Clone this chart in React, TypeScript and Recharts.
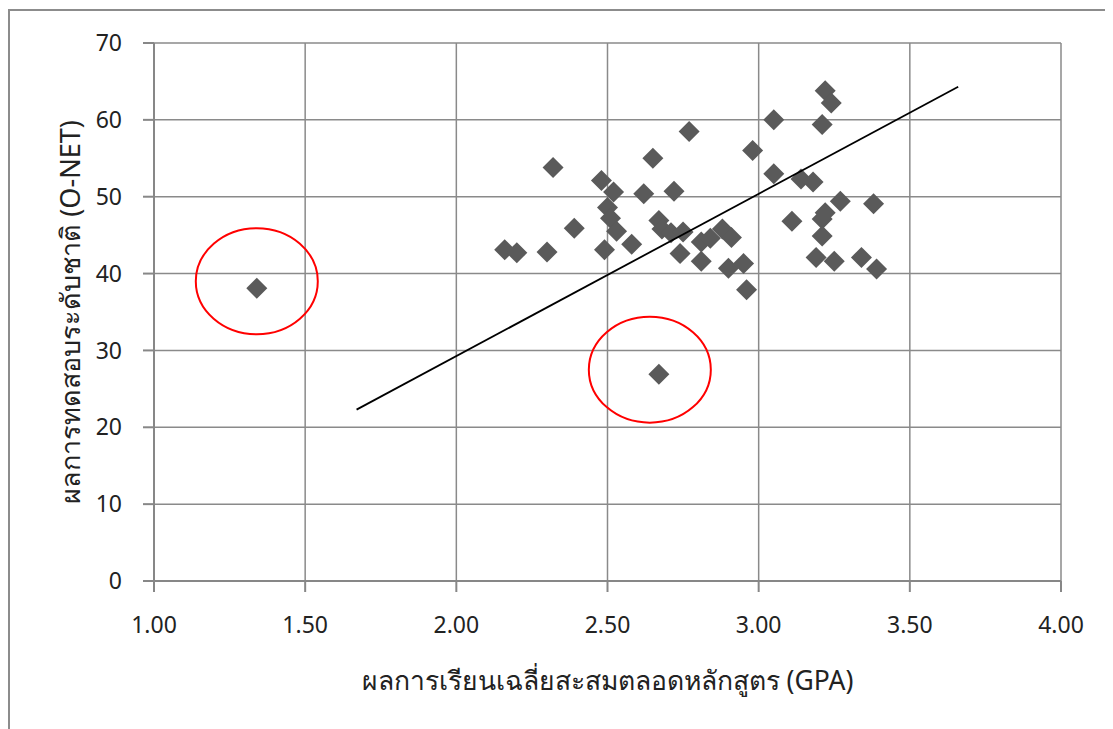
import React from "react";
import {
    ScatterChart,
    Scatter,
    XAxis,
    YAxis,
    CartesianGrid,
    ReferenceDot,
} from "recharts";

// GPA (x) vs O-NET score (y)
const gpa = [
    1.34, 2.16, 2.2, 2.3, 2.32, 2.39, 2.48, 2.49, 2.5, 2.51, 2.52, 2.53, 2.58, 2.62, 2.65, 2.67, 2.68, 2.67, 2.71,
    2.72, 2.74, 2.75, 2.77, 2.81, 2.81, 2.84, 2.88, 2.9, 2.91, 2.95, 2.96, 2.98, 3.05, 3.05, 3.11, 3.14, 3.18, 3.19,
    3.21, 3.21, 3.21, 3.22, 3.22, 3.24, 3.25, 3.27, 3.34, 3.38, 3.39,
];
const onet = [
    38.1, 43.1, 42.7, 42.8, 53.8, 45.9, 52.1, 43.1, 48.6, 47.2, 50.6, 45.5, 43.8, 50.4, 55.0, 46.9, 45.8, 26.9, 45.3,
    50.7, 42.6, 45.4, 58.5, 41.6, 44.1, 44.6, 45.8, 40.7, 44.7, 41.3, 37.9, 56.0, 60.0, 53.0, 46.8, 52.3, 51.9, 42.1,
    47.1, 44.9, 59.4, 63.8, 47.9, 62.2, 41.6, 49.4, 42.1, 49.1, 40.6,
];

// straight trend line end points
const trendX = [1.67, 3.66];
const trendY = [22.3, 64.3];

// circled outliers
const outlierX = [1.34, 2.64];
const outlierY = [39.0, 27.5];

const xTicks = [1, 1.5, 2, 2.5, 3, 3.5, 4];
const yTicks = [0, 10, 20, 30, 40, 50, 60, 70];

const points = gpa.map((x, i) => ({ x, y: onet[i] }));
const trend = trendX.map((x, i) => ({ x, y: trendY[i] }));

const Diamond = (props: any) => {
    const { cx, cy } = props;
    if (cx == null || cy == null) return <g />;
    const r = 10.5;
    return <polygon points={`${cx},${cy - r} ${cx + r},${cy} ${cx},${cy + r} ${cx - r},${cy}`} fill="#5a5a5a" />;
};

const Ellipse = (props: any) => {
    const { cx, cy } = props;
    return <ellipse cx={cx} cy={cy} rx={61} ry={53} fill="none" stroke="#ff0000" strokeWidth={2} />;
};

const font = "'Noto Sans', 'Open Sans', sans-serif";
const axisStroke = { stroke: "#878787", strokeWidth: 2 };

export default function App() {
    return (
        <div style={{ position: "relative", width: 1105, height: 721 }}>
            <div
                style={{
                    position: "absolute",
                    left: 0,
                    top: 1,
                    width: 1105,
                    height: 720,
                    borderLeft: "2px solid #8c8c8c",
                    borderTop: "2px solid #8c8c8c",
                    borderRight: "1px solid #e6e6e6",
                    boxSizing: "border-box",
                    pointerEvents: "none",
                    zIndex: 2,
                }}
            />
            <ScatterChart width={1097} height={721} margin={{ top: 35, right: 44, left: 0, bottom: 0 }}>
                <CartesianGrid stroke="#8a8a8a" strokeWidth={1.5} />
                <XAxis
                    type="number"
                    dataKey="x"
                    domain={[1, 4]}
                    ticks={xTicks}
                    tickFormatter={(v: number) => v.toFixed(2)}
                    height={148}
                    tickSize={11}
                    tickMargin={25}
                    axisLine={axisStroke}
                    tickLine={axisStroke}
                    tick={{ fill: "#222", fontSize: 23, fontFamily: font }}
                    label={{
                        value: "ผลการเรียนเฉลี่ยสะสมตลอดหลักสูตร (GPA)",
                        position: "center",
                        dy: 26,
                        style: { fill: "#222", fontSize: 26.5, fontFamily: font },
                    }}
                />
                <YAxis
                    type="number"
                    dataKey="y"
                    domain={[0, 70]}
                    ticks={yTicks}
                    width={146}
                    tickSize={11}
                    tickMargin={21}
                    axisLine={axisStroke}
                    tickLine={axisStroke}
                    tick={{ fill: "#222", fontSize: 23, fontFamily: font }}
                    label={{
                        value: "ผลการทดสอบระดับชาติ (O-NET)",
                        angle: -90,
                        position: "center",
                        dx: -11,
                        style: { fill: "#222", fontSize: 27, fontFamily: font },
                    }}
                />
                <Scatter data={points} shape={Diamond} isAnimationActive={false} />
                <Scatter
                    data={trend}
                    line={{ stroke: "#000", strokeWidth: 1.8 }}
                    lineType="joint"
                    shape={() => <g />}
                    isAnimationActive={false}
                />
                {outlierX.map((x, i) => (
                    <ReferenceDot key={i} x={x} y={outlierY[i]} r={1} shape={Ellipse} ifOverflow="visible" />
                ))}
            </ScatterChart>
        </div>
    );
}
